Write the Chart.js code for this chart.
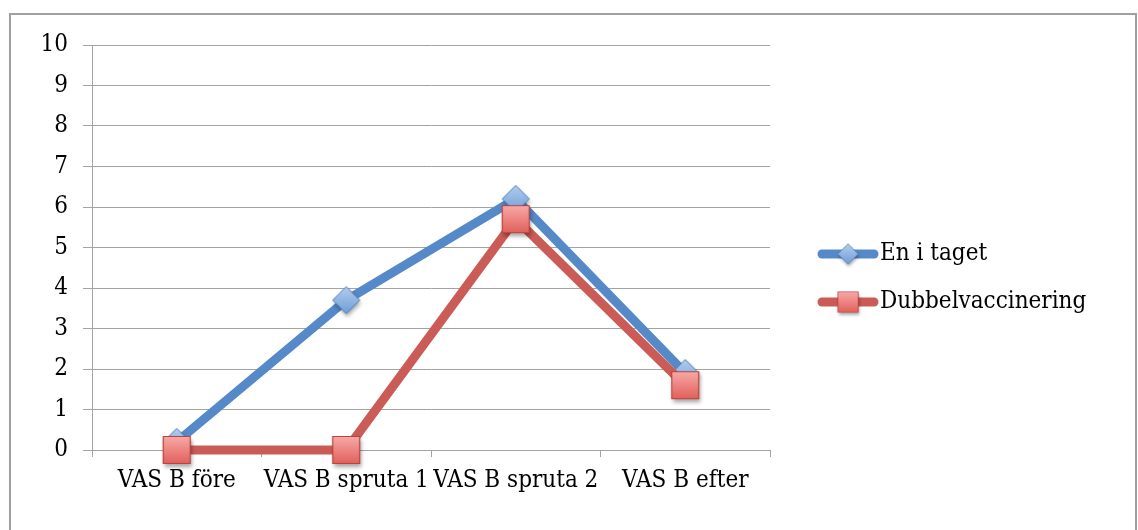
<!DOCTYPE html>
<html>
<head>
<meta charset="utf-8">
<script src="https://cdn.jsdelivr.net/npm/chart.js@4/dist/chart.umd.min.js"></script>
<style>
  html, body { margin: 0; padding: 0; background: #fff; }
  #wrap { width: 1138px; height: 530px; position: relative; }
</style>
</head>
<body>
<div id="wrap"><canvas id="c" width="1138" height="530"></canvas></div>
<script>
// VAS B scores per measurement occasion
const categories = ['VAS B före', 'VAS B spruta 1', 'VAS B spruta 2', 'VAS B efter'];
const seriesNames = ['En i taget', 'Dubbelvaccinering'];
const enITaget = [0.2, 3.7, 6.2, 1.9];
const dubbelvaccinering = [0, 0, 5.7, 1.6];
const yTicks = [0, 1, 2, 3, 4, 5, 6, 7, 8, 9, 10];

const FONT = '"DejaVu Serif Condensed", "DejaVu Serif", serif';
const FONT_SIZE = 24;
const GRID = '#A3A3A3';
const BLUE = '#5689C8';
const RED = '#CB5B56';

// Marker images with a soft drop shadow and gradient fill
function makeMarker(kind) {
  const s = 44, c = document.createElement('canvas');
  c.width = s; c.height = s;
  const g = c.getContext('2d');
  const m = s / 2;
  g.shadowColor = 'rgba(0,0,0,0.35)';
  g.shadowBlur = 4;
  g.shadowOffsetY = 3;
  g.shadowOffsetX = 1;
  g.beginPath();
  let grad;
  if (kind === 'diamond') {
    const r = 13.5;
    g.moveTo(m, m - r); g.lineTo(m + r, m); g.lineTo(m, m + r); g.lineTo(m - r, m); g.closePath();
    grad = g.createLinearGradient(0, m - r, 0, m + r);
    grad.addColorStop(0, '#B3CDEE');
    grad.addColorStop(1, '#6F9ED9');
    g.fillStyle = grad; g.fill();
    g.shadowColor = 'transparent';
    g.lineWidth = 1; g.strokeStyle = '#4A7EBB'; g.stroke();
  } else {
    const h = 13.5;
    g.rect(m - h, m - h, 2 * h, 2 * h);
    grad = g.createLinearGradient(0, m - h, 0, m + h);
    grad.addColorStop(0, '#F7A9A6');
    grad.addColorStop(1, '#E2605C');
    g.fillStyle = grad; g.fill();
    g.shadowColor = 'transparent';
    g.lineWidth = 1.2; g.strokeStyle = '#B9443F'; g.stroke();
  }
  return c;
}
const diamond = makeMarker('diamond');
const square = makeMarker('square');

// Outer frame around the whole chart
const framePlugin = {
  id: 'frame',
  beforeDraw(chart) {
    const ctx = chart.ctx;
    ctx.save();
    ctx.fillStyle = '#fff';
    ctx.fillRect(0, 0, chart.width, chart.height);
    ctx.strokeStyle = '#A0A0A0';
    ctx.lineWidth = 2;
    ctx.strokeRect(10, 14, 1126, 530);
    ctx.restore();
  }
};

// Legend on the right: thick line sample with the marker on it
const sideLegend = {
  id: 'sideLegend',
  afterDraw(chart) {
    const ctx = chart.ctx;
    ctx.save();
    chart.data.datasets.forEach((ds, i) => {
      const y = 254 + i * 48;
      ctx.strokeStyle = ds.borderColor;
      ctx.lineWidth = 9;
      ctx.lineCap = 'round';
      ctx.beginPath();
      ctx.moveTo(822, y); ctx.lineTo(874, y); ctx.stroke();
      const img = ds.pointStyle;
      const sc = 0.75;
      ctx.drawImage(img, 848 - img.width * sc / 2, y - img.height * sc / 2, img.width * sc, img.height * sc);
      ctx.fillStyle = '#000';
      ctx.font = FONT_SIZE + 'px ' + FONT;
      ctx.textAlign = 'left';
      ctx.textBaseline = 'middle';
      ctx.fillText(ds.label, 880, y);
    });
    ctx.restore();
  }
};

new Chart(document.getElementById('c'), {
  type: 'line',
  data: {
    labels: categories,
    datasets: [
      {
        label: seriesNames[0], data: enITaget,
        borderColor: BLUE, backgroundColor: BLUE, borderWidth: 9,
        pointStyle: diamond, pointRadius: 14, pointHoverRadius: 14,
        order: 2, tension: 0, clip: false
      },
      {
        label: seriesNames[1], data: dubbelvaccinering,
        borderColor: RED, backgroundColor: RED, borderWidth: 9,
        pointStyle: square, pointRadius: 14, pointHoverRadius: 14,
        order: 1, tension: 0, clip: false
      }
    ]
  },
  options: {
    responsive: false,
    animation: false,
    events: [],
    layout: { padding: { left: 0, top: 45, right: 368, bottom: 0 } },
    plugins: { legend: { display: false }, tooltip: { enabled: false } },
    scales: {
      x: {
        offset: true,
        grid: { display: true, offset: true, drawOnChartArea: false, drawTicks: true, tickLength: 7, color: GRID },
        border: { display: true, color: GRID, width: 1 },
        ticks: { color: '#000', font: { family: FONT, size: FONT_SIZE }, padding: 9, maxRotation: 0, autoSkip: false },
        afterFit(scale) { scale.height = 80; }
      },
      y: {
        min: 0, max: 10,
        afterBuildTicks(scale) { scale.ticks = yTicks.map(v => ({ value: v })); },
        grid: { color: GRID, lineWidth: 1, tickLength: 9, drawTicks: true },
        border: { display: true, color: GRID, width: 1 },
        ticks: { color: '#000', font: { family: FONT, size: FONT_SIZE }, padding: 15 },
        afterFit(scale) { scale.width = 92; }
      }
    }
  },
  plugins: [framePlugin, sideLegend]
});
</script>
</body>
</html>
